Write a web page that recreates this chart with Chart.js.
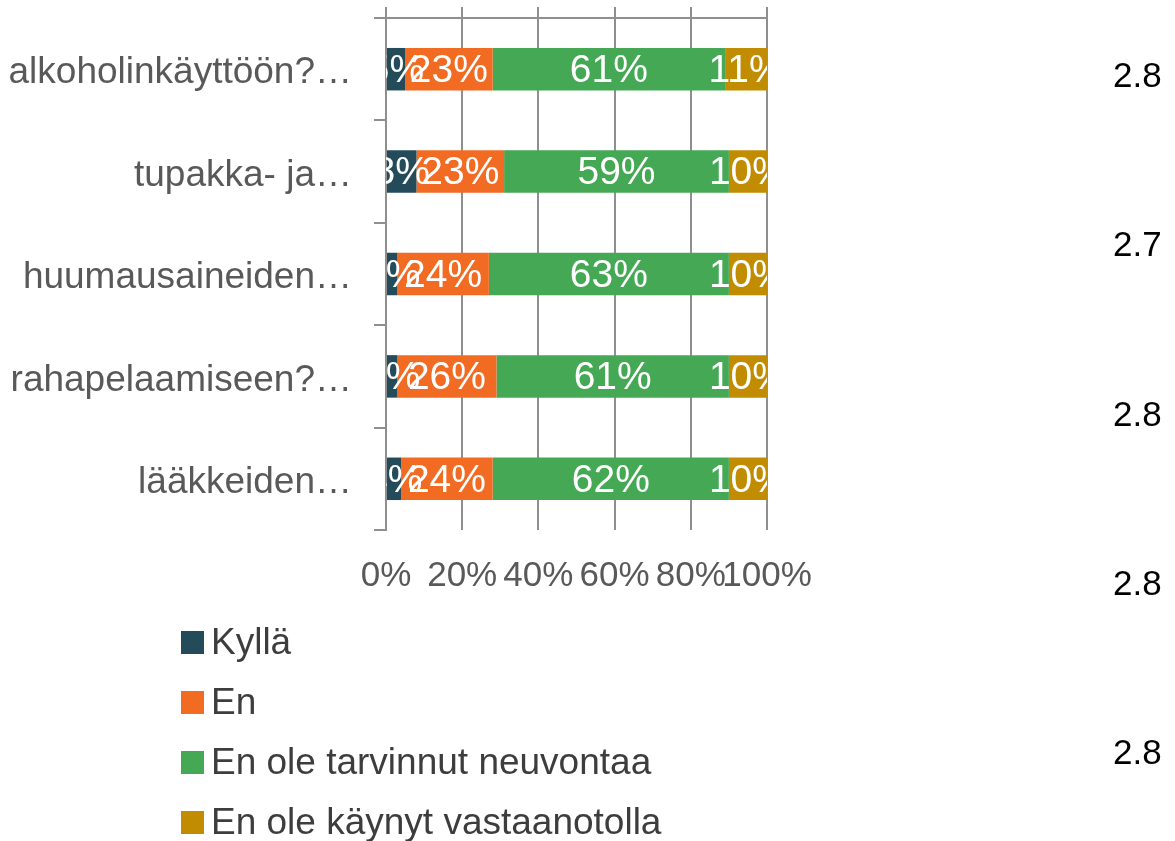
<!DOCTYPE html>
<html>
<head>
<meta charset="utf-8">
<script src="https://cdn.jsdelivr.net/npm/chart.js@4/dist/chart.umd.min.js"></script>
<style>
    body { margin: 0; background: #fff; }
    #wrap { position: relative; width: 1175px; height: 841px; font-family: "Liberation Sans", Arial, sans-serif; }
    #chart { position: absolute; left: 0; top: 0; }
    #legend { position: absolute; left: 181px; top: 612px; }
    .item { height: 60px; display: flex; align-items: center; font-size: 37px; color: #3d3d3d; white-space: nowrap; }
    .box { width: 23px; height: 23px; margin-right: 7px; flex: none; }
    #avg { position: absolute; left: 1113px; top: -10px; }
    #avg div { height: 169.3px; line-height: 169.3px; font-size: 35px; color: #000; }
</style>
</head>
<body>
<div id="wrap">
    <canvas id="chart" width="1175" height="841"></canvas>
    <div id="legend"></div>
    <div id="avg"></div>
</div>
<script>
    'use strict';

    // categories, top to bottom
    var categories = ['alkoholinkäyttöön?…', 'tupakka- ja…', 'huumausaineiden…', 'rahapelaamiseen?…', 'lääkkeiden…'];

    // shares in percent
    var kylla = [5, 8, 3, 3, 4];
    var en = [23, 23, 24, 26, 24];
    var eiTarvinnut = [61, 59, 63, 61, 62];
    var eiKaynyt = [11, 10, 10, 10, 10];

    var seriesNames = ['Kyllä', 'En', 'En ole tarvinnut neuvontaa', 'En ole käynyt vastaanotolla'];
    var seriesColors = ['#234b5a', '#f26b23', '#44a854', '#c28c00'];

    // numbers shown in the right column
    var averages = ['2.8', '2.7', '2.8', '2.8', '2.8'];

    var xTicks = [0, 20, 40, 60, 80, 100];

    var gridColor = '#8f8f8f';
    var fontFamily = '"Liberation Sans", Arial, sans-serif';

    // white percent labels centred in each segment, clipped to the plot area
    var segmentLabels = {
        id: 'segmentLabels',
        afterDatasetsDraw: function (chart) {
            var ctx = chart.ctx;
            var area = chart.chartArea;
            ctx.save();
            ctx.beginPath();
            ctx.rect(area.left, area.top, area.right - area.left, area.bottom - area.top);
            ctx.clip();
            ctx.font = '39px ' + fontFamily;
            ctx.fillStyle = '#ffffff';
            ctx.textAlign = 'center';
            ctx.textBaseline = 'middle';
            chart.data.datasets.forEach(function (ds, i) {
                chart.getDatasetMeta(i).data.forEach(function (bar, j) {
                    ctx.fillText(ds.data[j] + '%', (bar.x + bar.base) / 2, bar.y + 2);
                });
            });
            ctx.restore();
        }
    };

    var datasets = [kylla, en, eiTarvinnut, eiKaynyt].map(function (values, i) {
        return {
            label: seriesNames[i],
            data: values,
            backgroundColor: seriesColors[i],
            borderWidth: 0,
            categoryPercentage: 1,
            barPercentage: 0.415
        };
    });

    new Chart(document.getElementById('chart'), {
        type: 'bar',
        data: { labels: categories, datasets: datasets },
        plugins: [segmentLabels],
        options: {
            indexAxis: 'y',
            responsive: false,
            animation: false,
            layout: { autoPadding: false, padding: { top: 7, left: 0, right: 408, bottom: 211 } },
            plugins: {
                legend: { display: false },
                tooltip: { enabled: false }
            },
            scales: {
                x: {
                    stacked: true,
                    min: 0,
                    max: 100,
                    afterBuildTicks: function (scale) {
                        scale.ticks = xTicks.map(function (v) { return { value: v }; });
                    },
                    afterFit: function (scale) { scale.height = 100; },
                    ticks: {
                        autoSkip: false,
                        maxRotation: 0,
                        padding: 25,
                        color: '#595959',
                        font: { size: 35, family: fontFamily },
                        callback: function (v) { return v + '%'; }
                    },
                    grid: { color: gridColor, lineWidth: 2, drawTicks: false },
                    border: { display: false }
                },
                x2: {
                    type: 'linear',
                    position: 'top',
                    min: 0,
                    max: 100,
                    afterBuildTicks: function (scale) {
                        scale.ticks = xTicks.map(function (v) { return { value: v }; });
                    },
                    ticks: { display: false },
                    grid: { color: gridColor, lineWidth: 2, drawOnChartArea: false, drawTicks: true, tickLength: 11 },
                    border: { display: true, color: gridColor, width: 2 }
                },
                y: {
                    stacked: true,
                    afterFit: function (scale) {
                        scale.width = 386;
                        scale.paddingTop = 0;
                        scale.paddingBottom = 0;
                    },
                    ticks: {
                        padding: 22,
                        labelOffset: 4,
                        color: '#595959',
                        font: { size: 37, family: fontFamily }
                    },
                    grid: { color: gridColor, lineWidth: 2, drawOnChartArea: false, drawTicks: true, tickLength: 12, offset: true },
                    border: { display: true, color: gridColor, width: 2 }
                }
            }
        }
    });

    // legend, one entry per row
    var legendEl = document.getElementById('legend');
    seriesNames.forEach(function (name, i) {
        var row = document.createElement('div');
        row.className = 'item';
        var box = document.createElement('span');
        box.className = 'box';
        box.style.background = seriesColors[i];
        var txt = document.createElement('span');
        txt.textContent = name;
        row.appendChild(box);
        row.appendChild(txt);
        legendEl.appendChild(row);
    });

    var avgEl = document.getElementById('avg');
    averages.forEach(function (a) {
        var d = document.createElement('div');
        d.textContent = a;
        avgEl.appendChild(d);
    });
</script>
</body>
</html>
